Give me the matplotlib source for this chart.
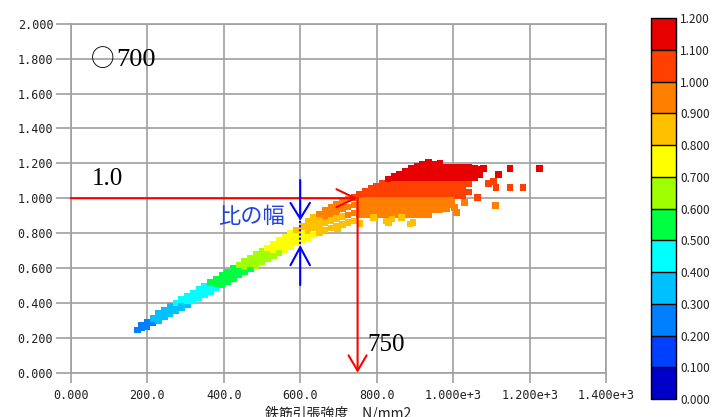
import matplotlib
matplotlib.use("Agg")
import matplotlib.pyplot as plt
from matplotlib.colors import ListedColormap, BoundaryNorm
from matplotlib.colorbar import ColorbarBase

# 横軸: 鉄筋引張強度 (N/mm2)、縦軸: 比 (色も比の値で塗り分け)
band_x = [175, 185, 200, 215, 230, 245, 260, 275, 290, 305, 320, 335, 350,
          365, 380, 395, 410, 425, 440, 455, 470, 485, 500, 515, 530, 545,
          560, 575, 590, 605, 620, 635, 650, 665, 680, 695, 710, 725, 740]
band_y = [
    [0.245],
    [0.255, 0.272],
    [0.266, 0.290],
    [0.285, 0.312],
    [0.300, 0.322, 0.340],
    [0.318, 0.340, 0.360],
    [0.336, 0.358, 0.380],
    [0.355, 0.377, 0.400],
    [0.373, 0.396, 0.420],
    [0.392, 0.415, 0.438],
    [0.410, 0.435, 0.458],
    [0.430, 0.454, 0.478],
    [0.448, 0.473, 0.498],
    [0.466, 0.492, 0.518],
    [0.485, 0.511, 0.537],
    [0.504, 0.531, 0.557],
    [0.522, 0.550, 0.578],
    [0.541, 0.569, 0.597],
    [0.560, 0.588, 0.616],
    [0.578, 0.607, 0.636],
    [0.597, 0.627, 0.656],
    [0.615, 0.646, 0.676],
    [0.634, 0.665, 0.696],
    [0.652, 0.684, 0.716],
    [0.670, 0.703, 0.736],
    [0.688, 0.723, 0.757],
    [0.706, 0.742, 0.777],
    [0.724, 0.761, 0.798],
    [0.742, 0.780, 0.818],
    [0.760, 0.799, 0.838],
    [0.776, 0.815, 0.852, 0.870],
    [0.790, 0.830, 0.868, 0.890],
    [0.805, 0.845, 0.885, 0.910],
    [0.818, 0.860, 0.900, 0.930],
    [0.830, 0.872, 0.912, 0.950],
    [0.840, 0.885, 0.925, 0.965],
    [0.850, 0.895, 0.940, 0.980],
    [0.860, 0.905, 0.950, 0.995],
    [0.870, 0.915, 0.960, 1.005],
]

cloud_x = [755, 770, 785, 800, 815, 830, 845, 860, 875, 890, 905, 920, 935,
           950, 965, 980, 995, 1010, 1025, 1040, 1055, 1070]
cloud_y = [
    [0.905, 0.935, 0.965, 0.995, 1.020],
    [0.905, 0.935, 0.965, 0.995, 1.025, 1.040],
    [0.905, 0.935, 0.965, 0.995, 1.025, 1.055],
    [0.905, 0.935, 0.965, 0.995, 1.025, 1.055, 1.070],
    [0.905, 0.935, 0.965, 0.995, 1.025, 1.055, 1.085],
    [0.905, 0.935, 0.965, 0.995, 1.025, 1.055, 1.085, 1.110],
    [0.905, 0.935, 0.965, 0.995, 1.025, 1.055, 1.085, 1.115, 1.125],
    [0.905, 0.935, 0.965, 0.995, 1.025, 1.055, 1.085, 1.115, 1.140],
    [0.905, 0.935, 0.965, 0.995, 1.025, 1.055, 1.085, 1.115, 1.145, 1.155],
    [0.905, 0.935, 0.965, 0.995, 1.025, 1.055, 1.085, 1.115, 1.145, 1.170],
    [0.905, 0.935, 0.965, 0.995, 1.025, 1.055, 1.085, 1.115, 1.145, 1.175, 1.185],
    [0.905, 0.935, 0.965, 0.995, 1.025, 1.055, 1.085, 1.115, 1.145, 1.175, 1.195],
    [0.905, 0.935, 0.965, 0.995, 1.025, 1.055, 1.085, 1.115, 1.145, 1.175, 1.205],
    [0.935, 0.965, 0.995, 1.025, 1.055, 1.085, 1.115, 1.145, 1.175, 1.195],
    [0.935, 0.965, 0.995, 1.025, 1.055, 1.085, 1.115, 1.145, 1.175, 1.200],
    [0.965, 0.995, 1.025, 1.055, 1.085, 1.115, 1.145, 1.175],
    [0.965, 0.995, 1.025, 1.055, 1.085, 1.115, 1.145, 1.175],
    [1.015, 1.045, 1.085, 1.115, 1.145, 1.175],
    [1.015, 1.045, 1.085, 1.115, 1.145, 1.180],
    [1.035, 1.085, 1.115, 1.145, 1.175],
    [1.115, 1.145, 1.170],
    [1.135, 1.165],
]

# 外れた点
stray_x = [698, 756, 791, 826, 831, 840, 865, 887, 895,
           982, 1004, 1008, 1030, 1110,
           1064, 1092, 1105, 1112, 1148, 1183,
           1079, 1118, 1148, 1225]
stray_y = [0.823, 0.856, 0.890, 0.870, 0.861, 0.880, 0.890, 0.852, 0.861,
           0.938, 0.947, 0.918, 0.976, 0.957,
           1.005, 1.085, 1.096, 1.062, 1.062, 1.062,
           1.170, 1.135, 1.171, 1.171]

levels = [0.0, 0.1, 0.2, 0.3, 0.4, 0.5, 0.6, 0.7, 0.8, 0.9, 1.0, 1.1, 1.2]
level_colors = ["#0000c8", "#0040ff", "#0080ff", "#00c0ff", "#00ffff", "#00ff40",
                "#a0ff00", "#ffff00", "#ffc000", "#ff8000", "#ff4000", "#e60000"]

xticks = [0, 200, 400, 600, 800, 1000, 1200, 1400]
xticklabels = ["0.000", "200.0", "400.0", "600.0", "800.0",
               "1.000e+3", "1.200e+3", "1.400e+3"]
yticks = [0.0, 0.2, 0.4, 0.6, 0.8, 1.0, 1.2, 1.4, 1.6, 1.8, 2.0]

xs, ys = [], []
for cols_x, cols_y in [(band_x, band_y), (cloud_x, cloud_y)]:
    for x, col in zip(cols_x, cols_y):
        for y in col:
            xs.append(x)
            ys.append(y)
xs += stray_x
ys += stray_y

cmap = ListedColormap(level_colors)
norm = BoundaryNorm(levels, cmap.N)

tick_font = "DejaVu Sans Mono"
grid_col = "#a0a0a0"

fig = plt.figure(figsize=(7.17, 4.17), dpi=100)
ax = fig.add_axes([0.0986, 0.1062, 0.7469, 0.8369])

ax.scatter(xs, ys, c=ys, cmap=cmap, norm=norm, marker="s", s=22,
           linewidths=0, zorder=3)

ax.set_xlim(0, 1400)
ax.set_ylim(0, 2.0)
ax.set_xticks(xticks)
ax.set_xticklabels(xticklabels, family=tick_font, fontsize=8.5)
ax.set_yticks(yticks)
ax.set_yticklabels([f"{v:.3f}" for v in yticks], family=tick_font, fontsize=8.5)
ax.grid(True, color=grid_col, lw=1.2)
ax.set_axisbelow(True)
for sp in ax.spines.values():
    sp.set_color(grid_col)
    sp.set_linewidth(1.2)
ax.tick_params(axis="y", length=11, width=1.2, color=grid_col, pad=1.5,
               labelcolor="#202020")
ax.tick_params(axis="x", length=7.5, width=1.2, color=grid_col, pad=4,
               labelcolor="#202020")

# 赤い矢印 (1.0 → 750)
red = "#ff0000"
ax.annotate("", xy=(750, 1.0), xytext=(0, 1.0), zorder=5,
            arrowprops=dict(arrowstyle="->,head_length=13.5,head_width=6.5",
                            mutation_scale=1, color=red, lw=1.5,
                            shrinkA=0, shrinkB=0))
ax.annotate("", xy=(750, 0.0), xytext=(750, 1.0), zorder=5,
            arrowprops=dict(arrowstyle="->,head_length=11,head_width=6.5",
                            mutation_scale=1, color=red, lw=1.5,
                            shrinkA=0, shrinkB=0))

# 青い矢印 (比の幅)
blue = "#0000ff"
ax.annotate("", xy=(600, 0.872), xytext=(600, 1.104), zorder=5,
            arrowprops=dict(arrowstyle="->,head_length=11.3,head_width=7",
                            mutation_scale=1, color=blue, lw=1.5,
                            shrinkA=0, shrinkB=0))
ax.annotate("", xy=(600, 0.732), xytext=(600, 0.502), zorder=5,
            arrowprops=dict(arrowstyle="->,head_length=13,head_width=7",
                            mutation_scale=1, color=blue, lw=1.5,
                            shrinkA=0, shrinkB=0))
ax.plot([600, 600], [0.872, 0.732], color=blue, lw=1.5, ls=(0, (1, 1)), zorder=5)

serif = ["Liberation Serif", "DejaVu Sans"]
ax.text(53, 1.795, "○", fontsize=17, family=["Noto Sans CJK JP"], va="center")
ax.text(120, 1.79, "700", fontsize=19, family=serif, va="center")
ax.text(55, 1.113, "1.0", fontsize=18, family=serif, va="center")
ax.text(775, 0.156, "750", fontsize=18, family=serif, va="center")
ax.text(385, 0.898, "比の幅", fontsize=16, color="#2244dd",
        family=["Noto Sans CJK JP", "DejaVu Sans"], va="center")

fig.text(0.4714, 0.026, "鉄筋引張強度　N/mm2", ha="center", va="top",
         fontsize=10, family=["Noto Sans CJK JP", "DejaVu Sans"], color="#202020")

cax = fig.add_axes([0.908, 0.0432, 0.0349, 0.913])
cb = ColorbarBase(cax, cmap=cmap, norm=norm, boundaries=levels, ticks=levels,
                  drawedges=True)
cb.outline.set_edgecolor("black")
cb.outline.set_linewidth(1.0)
cb.dividers.set_color("black")
cb.dividers.set_linewidth(1.0)
cax.tick_params(length=0, pad=3, labelcolor="#202020")
cax.set_yticklabels([f"{v:.3f}" for v in levels], family="Noto Sans CJK JP",
                    fontsize=8.5)

fig.savefig("out.png", dpi=100)
